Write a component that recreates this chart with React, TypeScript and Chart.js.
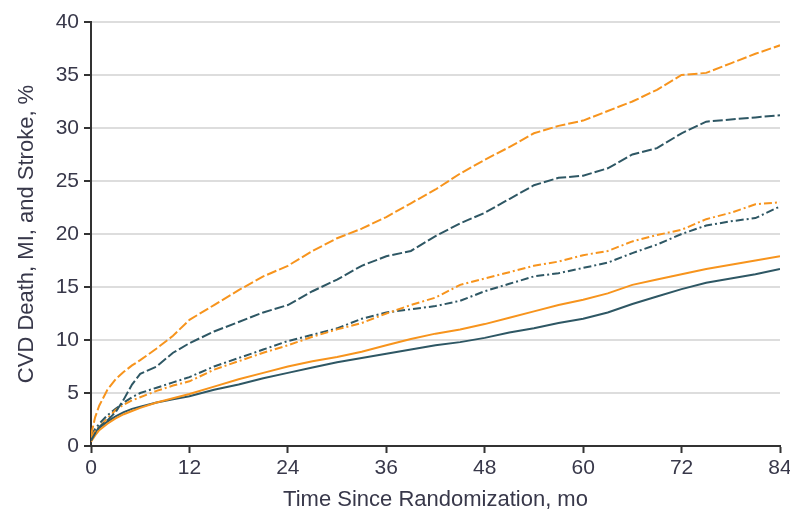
import { useEffect, useRef } from "react";
import { Chart, registerables } from "chart.js";
Chart.register(...registerables);

const months = [0, 0.5, 1, 2, 3, 4, 5, 6, 8, 10, 12, 15, 18, 21, 24, 27, 30, 33, 36, 39, 42, 45, 48, 51, 54, 57, 60, 63, 66, 69, 72, 75, 78, 81, 84];

const orangeDashed = [1.0, 2.7, 3.8, 5.3, 6.3, 7.0, 7.6, 8.1, 9.2, 10.4, 11.9, 13.3, 14.7, 16.0, 17.0, 18.4, 19.6, 20.5, 21.6, 22.9, 24.2, 25.7, 27.0, 28.2, 29.5, 30.2, 30.7, 31.6, 32.5, 33.6, 35.0, 35.2, 36.1, 37.0, 37.8];
const tealDashed = [0.5, 1.2, 1.8, 2.4, 3.2, 4.4, 5.8, 6.8, 7.5, 8.8, 9.7, 10.8, 11.7, 12.6, 13.3, 14.6, 15.7, 17.0, 17.9, 18.4, 19.8, 21.0, 22.0, 23.3, 24.6, 25.3, 25.5, 26.2, 27.5, 28.1, 29.5, 30.6, 30.8, 31.0, 31.2];
const orangeDashDot = [0.8, 1.4, 1.8, 2.6, 3.4, 3.9, 4.3, 4.6, 5.2, 5.7, 6.1, 7.2, 8.0, 8.8, 9.5, 10.3, 11.0, 11.6, 12.5, 13.3, 14.0, 15.2, 15.8, 16.4, 17.0, 17.4, 18.0, 18.4, 19.3, 19.9, 20.4, 21.4, 22.0, 22.8, 23.0];
const tealDashDot = [1.0, 1.6, 2.1, 2.9, 3.5, 4.1, 4.6, 5.0, 5.5, 6.0, 6.5, 7.5, 8.3, 9.1, 9.9, 10.5, 11.1, 12.0, 12.6, 12.9, 13.2, 13.7, 14.6, 15.3, 16.0, 16.3, 16.8, 17.3, 18.2, 19.0, 20.0, 20.8, 21.2, 21.5, 22.6];
const orangeSolid = [0.4, 1.0, 1.5, 2.1, 2.6, 3.0, 3.3, 3.6, 4.1, 4.5, 4.9, 5.6, 6.3, 6.9, 7.5, 8.0, 8.4, 8.9, 9.5, 10.1, 10.6, 11.0, 11.5, 12.1, 12.7, 13.3, 13.8, 14.4, 15.2, 15.7, 16.2, 16.7, 17.1, 17.5, 17.9];
const tealSolid = [0.8, 1.3, 1.7, 2.3, 2.8, 3.2, 3.5, 3.7, 4.1, 4.4, 4.7, 5.3, 5.8, 6.4, 6.9, 7.4, 7.9, 8.3, 8.7, 9.1, 9.5, 9.8, 10.2, 10.7, 11.1, 11.6, 12.0, 12.6, 13.4, 14.1, 14.8, 15.4, 15.8, 16.2, 16.7];

const xTicks = [0, 12, 24, 36, 48, 60, 72, 84];
const yTicks = [0, 5, 10, 15, 20, 25, 30, 35, 40];

const ORANGE = "#f7941d";
const TEAL = "#2e5764";
const TEXT = "#38384a";
const AXIS = "#333333";
const FONT = "'Liberation Sans', Arial, sans-serif";

export default function App() {
  const ref = useRef<HTMLCanvasElement>(null);
  useEffect(() => {
    const pts = (v: number[]) => months.map((m, i) => ({ x: m, y: v[i] }));
    const ds = (label: string, v: number[], color: string, dash: number[]) => ({
      label,
      data: pts(v),
      borderColor: color,
      backgroundColor: color,
      borderDash: dash,
      borderWidth: 2,
      pointRadius: 0,
      tension: 0,
      fill: false,
    });
    const font = { family: FONT, size: 22 };
    const tickFont = { family: FONT, size: 21 };
    const chart = new Chart(ref.current as HTMLCanvasElement, {
      type: "line",
      data: {
        datasets: [
          ds("A", orangeDashed, ORANGE, [10, 3]),
          ds("B", tealDashed, TEAL, [10, 3]),
          ds("C", orangeDashDot, ORANGE, [8, 3, 2, 3]),
          ds("D", tealDashDot, TEAL, [8, 3, 2, 3]),
          ds("E", orangeSolid, ORANGE, []),
          ds("F", tealSolid, TEAL, []),
        ],
      },
      options: {
        responsive: false,
        animation: false,
        layout: { padding: { top: 22, right: 10, left: 0, bottom: 0 } },
        plugins: { legend: { display: false }, tooltip: { enabled: false } },
        scales: {
          x: {
            type: "linear",
            min: 0,
            max: 84,
            afterBuildTicks: (s: any) => {
              s.ticks = xTicks.map((v) => ({ value: v }));
            },
            afterFit: (s: any) => {
              s.height = 70;
              s.paddingRight = 10;
              s.paddingLeft = 0;
            },
            border: { color: AXIS, width: 2 },
            grid: { drawOnChartArea: false, drawTicks: true, tickLength: 7, tickColor: AXIS, tickWidth: 2 },
            ticks: { font: tickFont, color: TEXT, padding: 3, maxRotation: 0, autoSkip: false },
            title: { display: true, text: "Time Since Randomization, mo", font, color: TEXT, padding: { top: 0, bottom: 3 } },
          },
          y: {
            type: "linear",
            min: 0,
            max: 40,
            afterBuildTicks: (s: any) => {
              s.ticks = yTicks.map((v) => ({ value: v }));
            },
            afterFit: (s: any) => {
              s.width = 91;
            },
            border: { color: AXIS, width: 2 },
            grid: { color: "#dddddd", lineWidth: 2, drawTicks: true, tickLength: 7, tickColor: AXIS, tickWidth: 2 },
            ticks: { font: tickFont, color: TEXT, padding: 5, autoSkip: false },
            title: { display: true, text: "CVD Death, MI, and Stroke, %", font, color: TEXT, padding: { top: 14, bottom: 0 } },
          },
        },
      },
    } as any);
    return () => chart.destroy();
  }, []);
  return (
    <div style={{ position: "absolute", left: 0, top: 0, width: 790, height: 516, background: "#fff" }}>
      <canvas ref={ref} width={790} height={516} style={{ display: "block" }} />
    </div>
  );
}
